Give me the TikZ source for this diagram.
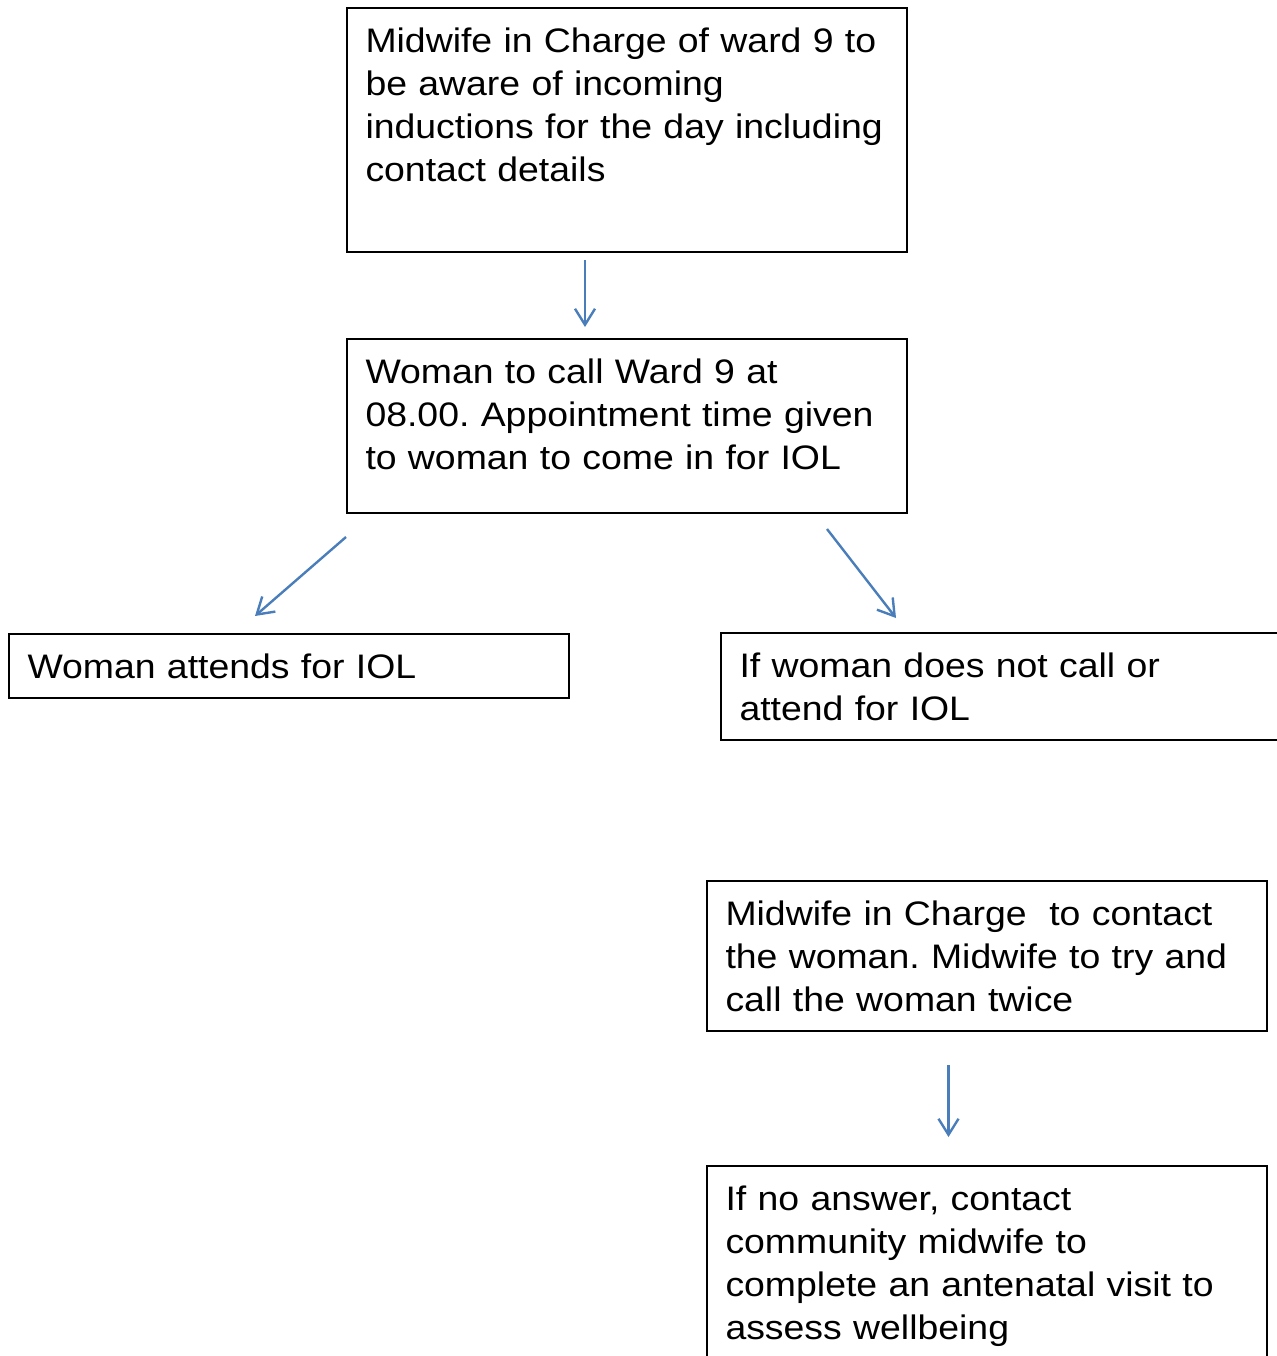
\documentclass[tikz,border=0pt]{standalone}
\usepackage{fontspec}
\setmainfont{Liberation Sans}[FakeStretch=1.1]
\usepackage{tikz}
\usetikzlibrary{arrows.meta,positioning,calc}
\frenchspacing
\definecolor{wardblue}{RGB}{74,126,187}
\tikzset{
    stepbox/.style={rectangle, draw, line width=1pt, text width=261.5pt, align=left, inner xsep=9.25pt, inner ysep=11.5pt, text height=10.5pt, font=\fontsize{17}{21.5}\selectfont},
    line/.style={draw, wardblue, line width=1.2pt, -{Straight Barb[length=8pt,width=10pt]}}
}
\begin{document}
\begin{tikzpicture}[x=0.5pt, y=-0.5pt]
    \useasboundingbox (0,0) rectangle (1276,1356);
    % Call-in flow
    \node [stepbox, anchor=north west, text depth=88.5pt] (charge) at (346,7) {Midwife in Charge of ward 9 to\\be aware of incoming\\inductions for the day including\\contact details};
    \node [stepbox, text depth=53.5pt, below=42.5pt of charge] (call) {Woman to call Ward 9 at\\08.00. Appointment time given\\to woman to come in for IOL};
    \node [stepbox, anchor=north west, inner ysep=10pt, text height=12pt, text depth=0pt] (attends) at (8,633) {Woman attends for IOL};
    \node [stepbox, anchor=north west, text depth=20pt] (nocall) at (720,632) {If woman does not call or\\attend for IOL};
    \node [stepbox, anchor=north west, text depth=41.5pt] (contact) at (706,880) {Midwife in Charge\ \ to contact\\the woman. Midwife to try and\\call the woman twice};
    \node [stepbox, below=66.5pt of contact] (community) {If no answer, contact\\community midwife to\\complete an antenatal visit to\\assess wellbeing};

    % Flow arrows
    \path [line] ($(charge.south)+(-42,7)$) -- ($(call.north)+(-42,-11)$);
    \path [line] ($(call.south west)+(0,23)$) -- ($(attends.north)+(-34,-17)$);
    \path [line] ($(call.south east)+(-81,15)$) -- ($(nocall.north west)+(176,-14)$);
    \path [line] ($(contact.south)+(-38.5,33)$) -- ($(community.north)+(-38.5,-28)$);
\end{tikzpicture}
\end{document}
